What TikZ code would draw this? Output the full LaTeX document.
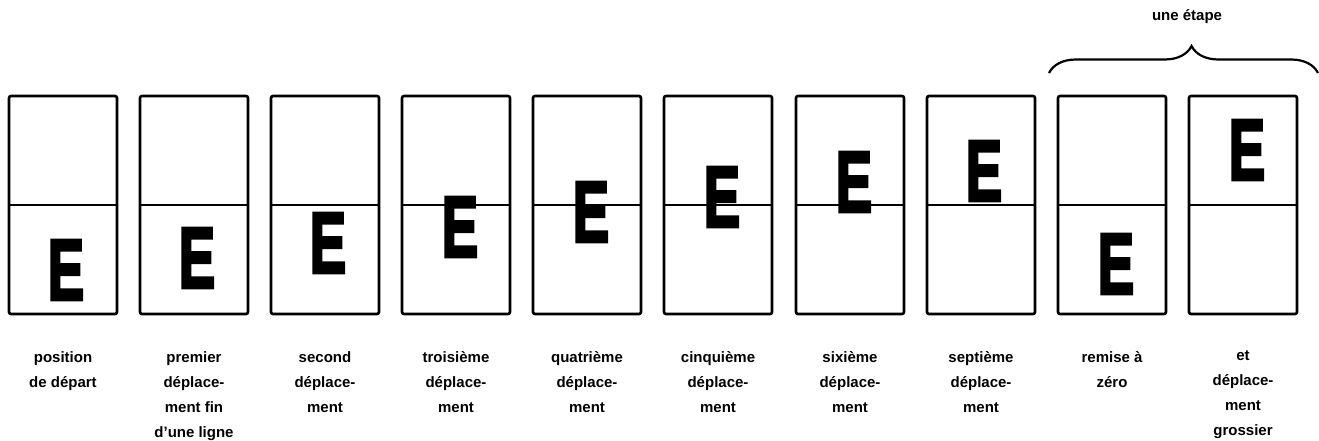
\documentclass[tikz,border=0pt]{standalone}
\usepackage{fontspec}
\setmainfont{Liberation Sans}
\newfontfamily\heavyfont[BoldFeatures={FakeBold=4}]{Liberation Sans}
\usetikzlibrary{decorations.pathreplacing}
\begin{document}
\begin{tikzpicture}[x=1pt, y=-1pt,
  cell/.style={draw, line width=2.6pt, rounded corners=2pt, minimum width=108pt, minimum height=218pt, inner sep=0pt,
    path picture={\draw[line width=2.4pt] (path picture bounding box.west) -- (path picture bounding box.east);}},
  letter/.style={inner sep=0pt, font=\fontsize{86}{86}\heavyfont\bfseries},
  lab/.style={anchor=north, align=center, inner sep=0pt, font=\fontsize{15}{25}\bfseries}]
  \useasboundingbox (0,0) rectangle (1319,441);
  % the ten windows
  \node[cell] (c1) at (63,205) {};
  \node[cell] (c2) at (194,205) {};
  \node[cell] (c3) at (325,205) {};
  \node[cell] (c4) at (456,205) {};
  \node[cell] (c5) at (587,205) {};
  \node[cell] (c6) at (718,205) {};
  \node[cell] (c7) at (850,205) {};
  \node[cell] (c8) at (981,205) {};
  \node[cell] (c9) at (1112,205) {};
  \node[cell] (c10) at (1243,205) {};
  % the letter in each window
  \node[letter] (e1) at (66,270) {\scalebox{0.63}[1]{E}};
  \node[letter] (e2) at (197,258) {\scalebox{0.63}[1]{E}};
  \node[letter] (e3) at (328,243) {\scalebox{0.63}[1]{E}};
  \node[letter] (e4) at (460,227) {\scalebox{0.63}[1]{E}};
  \node[letter] (e5) at (591,212) {\scalebox{0.63}[1]{E}};
  \node[letter] (e6) at (722,197) {\scalebox{0.63}[1]{E}};
  \node[letter] (e7) at (854,182) {\scalebox{0.63}[1]{E}};
  \node[letter] (e8) at (984,171) {\scalebox{0.63}[1]{E}};
  \node[letter] (e9) at (1116,264) {\scalebox{0.63}[1]{E}};
  \node[letter] (e10) at (1247,150) {\scalebox{0.63}[1]{E}};
  % captions
  \node[lab] (l1) at (c1.south |- 0,351) {position\\de départ};
  \node[lab] (l2) at (c2.south |- 0,351) {premier\\déplace-\\ment fin\\d’une ligne};
  \node[lab] (l3) at (c3.south |- 0,351) {second\\déplace-\\ment};
  \node[lab] (l4) at (c4.south |- 0,351) {troisième\\déplace-\\ment};
  \node[lab] (l5) at (c5.south |- 0,351) {quatrième\\déplace-\\ment};
  \node[lab] (l6) at (c6.south |- 0,351) {cinquième\\déplace-\\ment};
  \node[lab] (l7) at (c7.south |- 0,351) {sixième\\déplace-\\ment};
  \node[lab] (l8) at (c8.south |- 0,351) {septième\\déplace-\\ment};
  \node[lab] (l9) at (c9.south |- 0,351) {remise à\\zéro};
  \node[lab] (l10) at (c10.south |- 0,351) {et\\déplace-\\ment\\grossier};
  % brace over the last two
  \coordinate (bl) at (1049,73);
  \coordinate (br) at (1318,73);
  \draw[decorate, decoration={brace, amplitude=27pt, aspect=0.53}, line width=2.2pt] (bl) -- (br);
  \node[font=\fontsize{15}{18}\bfseries] (etape) at (1187,17) {une étape};
\end{tikzpicture}
\end{document}
